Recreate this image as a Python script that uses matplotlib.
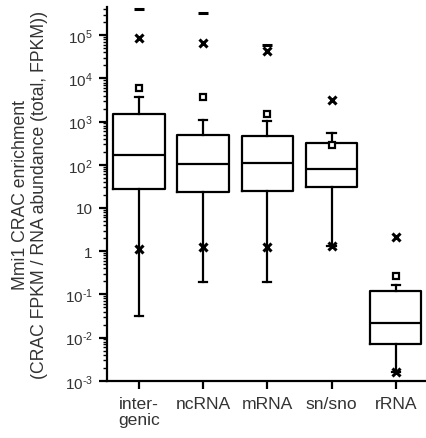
import numpy as np
import matplotlib
matplotlib.use("Agg")
import matplotlib.pyplot as plt
from matplotlib.ticker import FuncFormatter, LogLocator, NullFormatter

plt.rcParams['font.family'] = ['Liberation Sans', 'DejaVu Sans']
plt.rcParams['mathtext.fontset'] = 'custom'
plt.rcParams['mathtext.rm'] = 'Liberation Sans'
plt.rcParams['mathtext.it'] = 'Liberation Sans'

# ── data (box = quartiles, whiskers, mean, percentiles) ──
categories = ["inter-\ngenic", "ncRNA", "mRNA", "sn/sno", "rRNA"]
q1 = [27, 23, 25, 29.7, 0.0071]
med = [172, 103, 109, 79, 0.0215]
q3 = [1480, 475, 467, 316, 0.12]
whislo = [0.032, 0.19, 0.19, 1.28, 0.0016]
whishi = [3650, 1110, 1050, 540, 0.166]
means = [6000, 3600, 1510, 290, 0.264]
pct_hi = [8.7e4, 6.6e4, 4.2e4, 3230, 2.1]
pct_lo = [1.13, 1.24, 1.24, 1.28, 0.0016]
max_vals = [4.1e5, 3.3e5, 6.0e4, np.nan, np.nan]

TEXT = '#333333'
LW = 1.6

fig = plt.figure(figsize=(4.27, 4.39), dpi=100)
ax = fig.add_axes([0.25, 0.1305, 0.752, 0.8515])

pos = np.arange(len(categories))
stats = [dict(q1=a, med=m, q3=b, whislo=lo, whishi=hi, fliers=[])
         for a, m, b, lo, hi in zip(q1, med, q3, whislo, whishi)]
line = dict(color='black', linewidth=LW)
ax.bxp(stats, positions=pos, widths=0.8, capwidths=0.13, showfliers=False,
       boxprops=line, whiskerprops=line, capprops=line, medianprops=line)

ax.plot(pos, means, 's', ms=5, mfc='white', mec='black', mew=1.6, zorder=5)
ax.plot(pos, pct_hi, 'x', ms=6, mec='black', mew=2.2, zorder=5)
ax.plot(pos, pct_lo, 'x', ms=6, mec='black', mew=2.2, zorder=5)
ax.plot(pos, max_vals, '_', ms=7, mec='black', mew=2.2, zorder=5)

ax.set_yscale('log')
ax.set_ylim(1e-3, 4.5e5)
ax.set_xlim(-0.5, 4.5)


def dec_fmt(v, _=None):
    e = int(round(np.log10(v)))
    if e == 0:
        return "1"
    if e == 1:
        return "10"
    if e < 0:
        return r"$\mathregular{10^{\text{-}%d}}$" % (-e)
    return r"$\mathregular{10^{%d}}$" % e


ax.yaxis.set_major_locator(LogLocator(base=10, numticks=20))
ax.yaxis.set_minor_locator(LogLocator(base=10, subs=np.arange(2, 10), numticks=20))
ax.yaxis.set_major_formatter(FuncFormatter(dec_fmt))
ax.yaxis.set_minor_formatter(NullFormatter())

ax.set_xticks(pos)
ax.set_xticklabels(categories, fontsize=12.6, color=TEXT, linespacing=1.1)
ax.tick_params(axis='y', which='major', length=6, width=LW, labelsize=11,
               labelcolor=TEXT, pad=4)
ax.tick_params(axis='y', which='minor', length=3, width=1.0)
ax.tick_params(axis='x', length=6, width=LW, pad=5)

for side in ('top', 'right'):
    ax.spines[side].set_visible(False)
for side in ('left', 'bottom'):
    ax.spines[side].set_linewidth(LW)

ax.set_ylabel("Mmi1 CRAC enrichment\n(CRAC FPKM / RNA abundance (total, FPKM))",
              fontsize=12.7, color=TEXT, linespacing=1.15)
ax.yaxis.set_label_coords(-0.182, 0.5)

fig.savefig("out.png", dpi=100)
